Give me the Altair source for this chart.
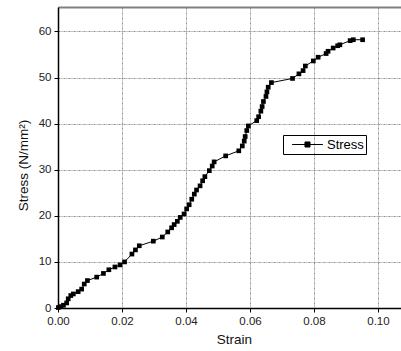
import altair as alt
import pandas as pd

# Strain (-) and stress (N/mm^2) readings from the tensile test
strain = [0.0001, 0.0009, 0.0017, 0.0027, 0.0032, 0.0040, 0.0048, 0.0063, 0.0074,
          0.0082, 0.0092, 0.0121, 0.0142, 0.0159, 0.0178, 0.0194, 0.0208, 0.0231,
          0.0242, 0.0254, 0.0298, 0.0326, 0.0343, 0.0355, 0.0363, 0.0373, 0.0382,
          0.0394, 0.0402, 0.0410, 0.0418, 0.0426, 0.0433, 0.0444, 0.0452, 0.0459,
          0.0473, 0.0482, 0.0488, 0.0524, 0.0565, 0.0576, 0.0582, 0.0585, 0.0590,
          0.0595, 0.0621, 0.0627, 0.0634, 0.0638, 0.0642, 0.0650, 0.0653, 0.0657,
          0.0667, 0.0733, 0.0753, 0.0766, 0.0773, 0.0798, 0.0813, 0.0838, 0.0844,
          0.0860, 0.0874, 0.0881, 0.0913, 0.0923, 0.0952]
stress = [0.1, 0.3, 0.6, 1.1, 2.0, 2.7, 3.05, 3.55, 4.1,
          5.2, 5.95, 6.7, 7.5, 8.3, 8.9, 9.35, 10.0, 11.7,
          12.6, 13.5, 14.5, 15.4, 16.5, 17.4, 18.1, 18.8, 19.65,
          20.4, 21.5, 22.4, 23.6, 24.7, 25.6, 26.5, 27.6, 28.5,
          29.8, 30.8, 31.7, 33.0, 34.1, 35.15, 36.2, 37.2, 38.5,
          39.5, 40.65, 41.5, 42.7, 43.7, 44.8, 45.9, 46.9, 47.9,
          48.9, 49.8, 50.8, 51.5, 52.5, 53.6, 54.4, 55.2, 55.7,
          56.4, 56.9, 57.1, 58.0, 58.2, 58.2]
series = ["Stress"] * len(strain)

df = pd.DataFrame({"Strain": strain, "Stress": stress, "Series": series})

FONT = "Liberation Sans"
xscale = alt.Scale(domain=[0, 0.1072], nice=False, zero=False)
yscale = alt.Scale(domain=[0, 65.3], nice=False)
cscale = alt.Scale(domain=["Stress"], range=["black"])

y = alt.Y("Stress:Q", scale=yscale,
          axis=alt.Axis(title="Stress (N/mm²)", values=[0, 10, 20, 30, 40, 50, 60],
                        titlePadding=8, titleY=158, labelFlush=False))

# Legend symbol: a short line through a filled square, wider than its nominal size
legend_symbol = "M-2.2,0H2.2M-0.36,-0.36H0.36V0.36H-0.36Z"

color = alt.Color("Series:N", scale=cscale,
                  legend=alt.Legend(title=None, orient="none", legendX=225, legendY=128,
                                    symbolType=legend_symbol, symbolSize=196,
                                    symbolStrokeWidth=1, symbolFillColor="black",
                                    strokeColor="black", padding=2,
                                    symbolOffset=15, labelOffset=12,
                                    labelFontSize=13, labelFont=FONT,
                                    labelColor="black"))

# Stress-strain curve with square markers
curve = alt.Chart(df).mark_line(
    strokeWidth=1,
    point=alt.OverlayMarkDef(shape="square", filled=True, size=22, opacity=1),
).encode(
    x=alt.X("Strain:Q", scale=xscale,
            axis=alt.Axis(title="Strain", values=[0, 0.02, 0.04, 0.06, 0.08, 0.10],
                          format=".2f", titlePadding=6, titleX=176, labelFlush=False)),
    y=y,
    color=color,
)

# Gray frame line along the top of the plot
top = alt.Chart(df).mark_point(opacity=0).encode(
    x=alt.X("Strain:Q", scale=xscale,
            axis=alt.Axis(orient="top", title=None, labels=False, ticks=False, grid=False,
                          domainColor="#808080", domainWidth=2)),
    y=y,
)

chart = alt.layer(curve, top).resolve_axis(x="independent").properties(
    width=343, height=301,
    autosize=alt.AutoSizeParams(type="none"),
    padding={"left": 58, "top": 7, "right": 0, "bottom": 43},
).configure_view(
    stroke=None
).configure_axis(
    labelFont=FONT, titleFont=FONT, labelFontSize=11.5, titleFontSize=13.5,
    labelColor="#222", titleColor="#111", titleFontWeight="normal",
    domainColor="black", domainWidth=1.5,
    tickColor="black", tickSize=4, tickWidth=1, labelPadding=3,
    grid=True, gridColor="#666", gridDash=[2, 1, 1, 1], gridWidth=0.8, gridOpacity=0.9,
)

chart.save("out.html", embed_options={"renderer": "svg", "actions": False})
